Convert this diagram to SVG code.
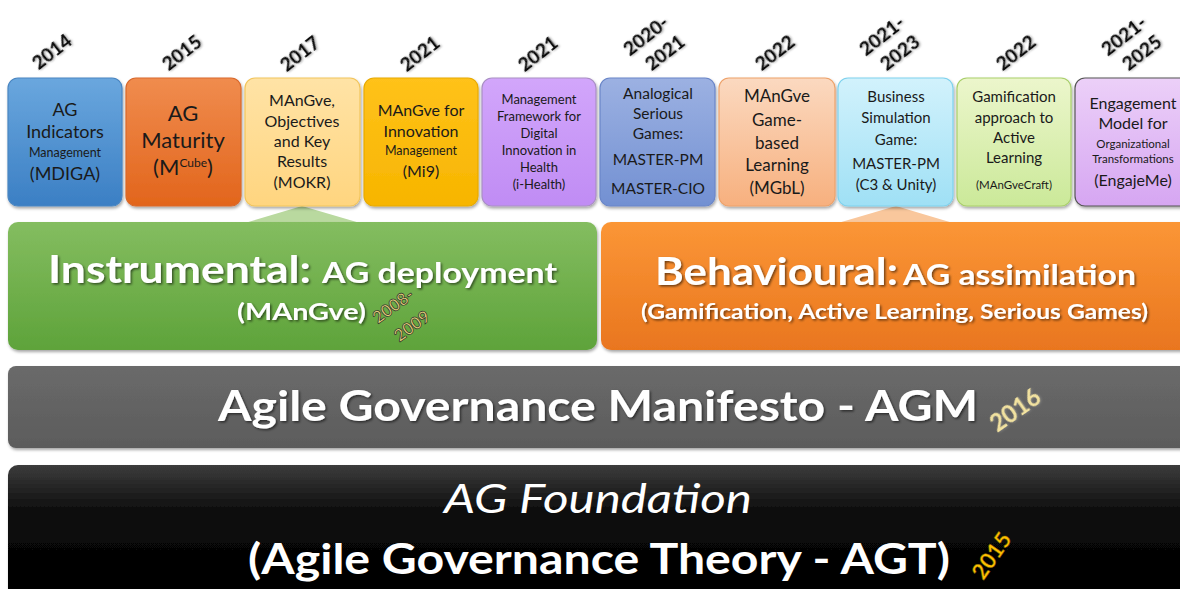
<svg xmlns="http://www.w3.org/2000/svg" width="1180" height="589" viewBox="0 0 1180 589">
<defs>
<linearGradient id="gBlue" x1="0" y1="0" x2="0" y2="1"><stop offset="0" stop-color="#6aa7de"/><stop offset="1" stop-color="#3b7fc4"/></linearGradient>
<linearGradient id="gOrange" x1="0" y1="0" x2="0" y2="1"><stop offset="0" stop-color="#f08c4e"/><stop offset="1" stop-color="#e2651c"/></linearGradient>
<linearGradient id="gYellow" x1="0" y1="0" x2="0" y2="1"><stop offset="0" stop-color="#ffe3a6"/><stop offset="1" stop-color="#ffd57f"/></linearGradient>
<linearGradient id="gGold" x1="0" y1="0" x2="0" y2="1"><stop offset="0" stop-color="#ffc21a"/><stop offset="1" stop-color="#f7b500"/></linearGradient>
<linearGradient id="gPurple" x1="0" y1="0" x2="0" y2="1"><stop offset="0" stop-color="#d2a6fb"/><stop offset="1" stop-color="#c08cf4"/></linearGradient>
<linearGradient id="gViolet" x1="0" y1="0" x2="0" y2="1"><stop offset="0" stop-color="#9cb1e2"/><stop offset="1" stop-color="#7290d2"/></linearGradient>
<linearGradient id="gPeach" x1="0" y1="0" x2="0" y2="1"><stop offset="0" stop-color="#fbd9c0"/><stop offset="1" stop-color="#f7b07e"/></linearGradient>
<linearGradient id="gCyan" x1="0" y1="0" x2="0" y2="1"><stop offset="0" stop-color="#d2f2fc"/><stop offset="1" stop-color="#9fe0f5"/></linearGradient>
<linearGradient id="gLime" x1="0" y1="0" x2="0" y2="1"><stop offset="0" stop-color="#ecf6cc"/><stop offset="1" stop-color="#cbe999"/></linearGradient>
<linearGradient id="gLilac" x1="0" y1="0" x2="0" y2="1"><stop offset="0" stop-color="#ecd0f8"/><stop offset="1" stop-color="#d6a6f2"/></linearGradient>
<linearGradient id="gGreenBar" x1="0" y1="0" x2="0" y2="1"><stop offset="0" stop-color="#84bd60"/><stop offset="1" stop-color="#5ea33a"/></linearGradient>
<linearGradient id="gOrangeBar" x1="0" y1="0" x2="0" y2="1"><stop offset="0" stop-color="#fb9636"/><stop offset="1" stop-color="#e9761f"/></linearGradient>
<linearGradient id="gGrayBar" x1="0" y1="0" x2="0" y2="1"><stop offset="0" stop-color="#6a6a6a"/><stop offset="1" stop-color="#5c5c5c"/></linearGradient>
<linearGradient id="gBlackBar" x1="0" y1="0" x2="0" y2="1"><stop offset="0" stop-color="#3c3c3c"/><stop offset="0.35" stop-color="#0a0a0a"/><stop offset="1" stop-color="#000000"/></linearGradient>
<filter id="shadow" x="-5%" y="-5%" width="110%" height="120%"><feDropShadow dx="1" dy="2" stdDeviation="1.5" flood-color="#000" flood-opacity="0.35"/></filter>
<filter id="tshadow" x="-5%" y="-20%" width="110%" height="140%"><feDropShadow dx="1.5" dy="1.5" stdDeviation="1" flood-color="#000" flood-opacity="0.55"/></filter>
<filter id="yshadow" x="-20%" y="-20%" width="140%" height="140%"><feDropShadow dx="1" dy="1" stdDeviation="0.8" flood-color="#888" flood-opacity="0.7"/></filter>
</defs>
<style>
text{font-family:Lato,"Open Sans","DejaVu Sans",sans-serif;}
.box{stroke-width:1.2;filter:url(#shadow);}
.bt{fill:#1a1a1a;text-anchor:middle;}
.yr{font-weight:900;font-size:19px;fill:#111;text-anchor:middle;filter:url(#yshadow);}
.wt{fill:#fff;font-weight:bold;filter:url(#tshadow);}
.bar{filter:url(#shadow);}
.gy{font-size:17px;font-weight:bold;fill:#e6cf78;stroke:#2a2a2a;stroke-width:0.7;text-anchor:middle;}
</style>
<rect width="1180" height="589" fill="#fff"/>

<g id="connectors">
<polygon points="302,206 245,223 360,223" fill="#b9d99f"/>
<polygon points="896,206 838,223 953,223" fill="#f9c79c"/>
</g>

<g id="years">
<text class="yr" transform="translate(56,57) rotate(-38)">2014</text>
<text class="yr" transform="translate(186,58) rotate(-38)">2015</text>
<text class="yr" transform="translate(304,59) rotate(-38)">2017</text>
<text class="yr" transform="translate(424,59) rotate(-38)">2021</text>
<text class="yr" transform="translate(542,59) rotate(-38)">2021</text>
<text class="yr" transform="translate(650,41) rotate(-38)">2020-</text>
<text class="yr" transform="translate(669,58) rotate(-38)">2021</text>
<text class="yr" transform="translate(779,58) rotate(-38)">2022</text>
<text class="yr" transform="translate(886,41) rotate(-38)">2021-</text>
<text class="yr" transform="translate(904,58) rotate(-38)">2023</text>
<text class="yr" transform="translate(1020,58) rotate(-38)">2022</text>
<text class="yr" transform="translate(1128,41) rotate(-38)">2021-</text>
<text class="yr" transform="translate(1146,58) rotate(-38)">2025</text>
</g>

<g id="n1">
<rect class="box" x="8" y="78" width="114" height="128" rx="10" fill="url(#gBlue)" stroke="#4a86c2"/>
<text class="bt" x="65" y="116" font-size="18">AG</text>
<text class="bt" x="65" y="138" font-size="18">Indicators</text>
<text class="bt" x="65" y="157" font-size="12.5">Management</text>
<text class="bt" x="65" y="180" font-size="18">(MDIGA)</text>
</g>
<g id="n2">
<rect class="box" x="126" y="78" width="115" height="128" rx="10" fill="url(#gOrange)" stroke="#d9682a"/>
<text class="bt" x="183" y="121" font-size="22">AG</text>
<text class="bt" x="183" y="148" font-size="22">Maturity</text>
<text class="bt" x="183" y="175" font-size="22">(M<tspan font-size="12" dy="-8">Cube</tspan><tspan dy="8">)</tspan></text>
</g>
<g id="n3">
<rect class="box" x="245" y="78" width="115" height="128" rx="10" fill="url(#gYellow)" stroke="#f2c55c"/>
<text class="bt" x="302" y="106" font-size="16">MAnGve,</text>
<text class="bt" x="302" y="127" font-size="16">Objectives</text>
<text class="bt" x="302" y="147" font-size="16">and Key</text>
<text class="bt" x="302" y="167" font-size="16">Results</text>
<text class="bt" x="302" y="188" font-size="16">(MOKR)</text>
</g>
<g id="n4">
<rect class="box" x="364" y="78" width="114" height="128" rx="10" fill="url(#gGold)" stroke="#e8aa00"/>
<text class="bt" x="421" y="116" font-size="16">MAnGve for</text>
<text class="bt" x="421" y="137" font-size="16">Innovation</text>
<text class="bt" x="421" y="155" font-size="12.5">Management</text>
<text class="bt" x="421" y="177" font-size="16">(Mi9)</text>
</g>
<g id="n5">
<rect class="box" x="482" y="78" width="114" height="128" rx="10" fill="url(#gPurple)" stroke="#a98fc4"/>
<text class="bt" x="539" y="104" font-size="13">Management</text>
<text class="bt" x="539" y="121" font-size="13">Framework for</text>
<text class="bt" x="539" y="138" font-size="13">Digital</text>
<text class="bt" x="539" y="155" font-size="13">Innovation in</text>
<text class="bt" x="539" y="172" font-size="13">Health</text>
<text class="bt" x="539" y="189" font-size="13">(i-Health)</text>
</g>
<g id="n6">
<rect class="box" x="600" y="78" width="115" height="128" rx="10" fill="url(#gViolet)" stroke="#6a86c8"/>
<text class="bt" x="658" y="99" font-size="15.5">Analogical</text>
<text class="bt" x="658" y="119" font-size="15.5">Serious</text>
<text class="bt" x="658" y="139" font-size="15.5">Games:</text>
<text class="bt" x="658" y="165" font-size="15.5">MASTER-PM</text>
<text class="bt" x="658" y="194" font-size="15.5">MASTER-CIO</text>
</g>
<g id="n7">
<rect class="box" x="719" y="78" width="116" height="128" rx="10" fill="url(#gPeach)" stroke="#eea26a"/>
<text class="bt" x="777" y="102" font-size="17">MAnGve</text>
<text class="bt" x="777" y="126" font-size="17">Game-</text>
<text class="bt" x="777" y="149" font-size="17">based</text>
<text class="bt" x="777" y="171" font-size="17">Learning</text>
<text class="bt" x="777" y="194" font-size="17">(MGbL)</text>
</g>
<g id="n8">
<rect class="box" x="838" y="78" width="115" height="128" rx="10" fill="url(#gCyan)" stroke="#7fd2ee"/>
<text class="bt" x="896" y="102" font-size="15">Business</text>
<text class="bt" x="896" y="123" font-size="15">Simulation</text>
<text class="bt" x="896" y="145" font-size="15">Game:</text>
<text class="bt" x="896" y="169" font-size="15">MASTER-PM</text>
<text class="bt" x="896" y="190" font-size="15">(C3 &amp; Unity)</text>
</g>
<g id="n9">
<rect class="box" x="957" y="78" width="114" height="128" rx="10" fill="url(#gLime)" stroke="#a9cf6a"/>
<text class="bt" x="1014" y="102" font-size="15">Gamification</text>
<text class="bt" x="1014" y="123" font-size="15">approach to</text>
<text class="bt" x="1014" y="143" font-size="15">Active</text>
<text class="bt" x="1014" y="163" font-size="15">Learning</text>
<text class="bt" x="1014" y="189" font-size="11.5">(MAnGveCraft)</text>
</g>
<g id="n10">
<rect class="box" x="1075" y="78" width="120" height="128" rx="10" fill="url(#gLilac)" stroke="#555"/>
<text class="bt" x="1133" y="109" font-size="16">Engagement</text>
<text class="bt" x="1133" y="129" font-size="16">Model for</text>
<text class="bt" x="1133" y="148" font-size="11.5">Organizational</text>
<text class="bt" x="1133" y="163" font-size="11.5">Transformations</text>
<text class="bt" x="1133" y="186" font-size="16">(EngajeMe)</text>
</g>

<g id="instrumental">
<rect class="bar" x="8" y="222" width="589" height="128" rx="10" fill="url(#gGreenBar)"/>
<text class="wt" x="48" y="283" font-size="38" textLength="263" lengthAdjust="spacingAndGlyphs">Instrumental:</text>
<text class="wt" x="322" y="283" font-size="29" textLength="235" lengthAdjust="spacingAndGlyphs">AG deployment</text>
<text class="wt" x="237" y="320" font-size="23" textLength="129" lengthAdjust="spacingAndGlyphs">(MAnGve)</text>
<text class="gy" transform="translate(393,306) rotate(-36)" dy="0.35em">2008-</text>
<text class="gy" transform="translate(412,326) rotate(-36)" dy="0.35em">2009</text>
</g>

<g id="behavioural">
<rect class="bar" x="601" y="222" width="590" height="128" rx="10" fill="url(#gOrangeBar)"/>
<text class="wt" x="655" y="285" font-size="38" textLength="243" lengthAdjust="spacingAndGlyphs">Behavioural:</text>
<text class="wt" x="903" y="285" font-size="29" textLength="233" lengthAdjust="spacingAndGlyphs">AG assimilation</text>
<text class="wt" x="641" y="319" font-size="21" textLength="507" lengthAdjust="spacingAndGlyphs">(Gamification, Active Learning, Serious Games)</text>
</g>

<g id="manifesto">
<rect class="bar" x="8" y="366" width="1183" height="82" rx="8" fill="url(#gGrayBar)"/>
<text class="wt" x="218" y="421" font-size="42" textLength="760" lengthAdjust="spacingAndGlyphs">Agile Governance Manifesto - AGM</text>
<text transform="translate(1020,417) rotate(-35)" text-anchor="middle" font-size="24" font-weight="bold" fill="#f3e3a0" filter="url(#yshadow)">2016</text>
</g>

<g id="foundation">
<rect class="bar" x="8" y="465" width="1183" height="140" rx="10" fill="url(#gBlackBar)"/>
<text x="444" y="513" font-size="40" font-style="italic" fill="#fff" textLength="308" lengthAdjust="spacingAndGlyphs">AG Foundation</text>
<text x="248" y="574" font-size="42" font-weight="bold" fill="#fff" textLength="702" lengthAdjust="spacingAndGlyphs">(Agile Governance Theory - AGT)</text>
<text transform="translate(998,560) rotate(-55)" text-anchor="middle" font-size="22" font-weight="bold" fill="#ffc000" stroke="#6b5200" stroke-width="0.5">2015</text>
</g>
</svg>
